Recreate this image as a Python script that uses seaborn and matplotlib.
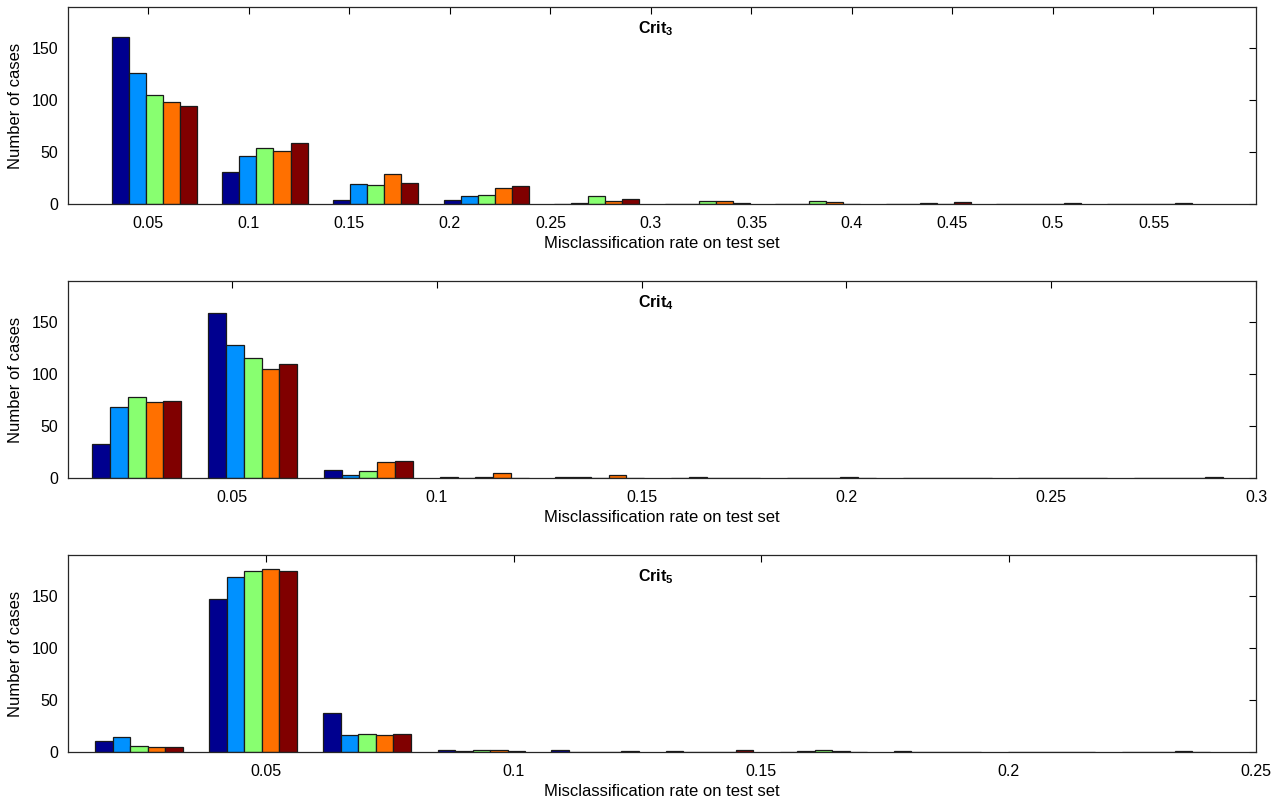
import numpy as np
import pandas as pd
import matplotlib
matplotlib.use("Agg")
import matplotlib.pyplot as plt
import seaborn as sns

# ---------------- data ----------------
series_names = ["S1", "S2", "S3", "S4", "S5"]
series_colors = ["#00008F", "#0091FF", "#88FF70", "#FF7000", "#800000"]

# Crit_3
crit3_bins = [0.053, 0.108, 0.163, 0.218, 0.273, 0.328, 0.383, 0.438, 0.493, 0.548]
crit3_s1 = [160, 31, 4, 4, 0, 0, 0, 0, 0, 0]
crit3_s2 = [126, 46, 19, 8, 1, 0, 0, 0, 0, 0]
crit3_s3 = [105, 54, 18, 9, 8, 3, 3, 1, 0, 0]
crit3_s4 = [98, 51, 29, 15, 3, 3, 2, 0, 0, 0]
crit3_s5 = [94, 59, 20, 17, 5, 1, 0, 2, 1, 1]
crit3_xticks = [0.05, 0.1, 0.15, 0.2, 0.25, 0.3, 0.35, 0.4, 0.45, 0.5, 0.55]
crit3_xlim = (0.01, 0.601)

# Crit_4
crit4_bins = [0.0268, 0.0551, 0.0833, 0.1116, 0.1398, 0.1681, 0.1963, 0.2246, 0.2528, 0.2811]
crit4_s1 = [33, 158, 8, 1, 1, 0, 0, 0, 0, 0]
crit4_s2 = [68, 128, 3, 0, 1, 1, 0, 0, 0, 0]
crit4_s3 = [78, 115, 7, 1, 0, 0, 0, 0, 0, 0]
crit4_s4 = [73, 105, 15, 5, 3, 0, 1, 0, 0, 0]
crit4_s5 = [74, 109, 16, 0, 0, 0, 0, 0, 0, 1]
crit4_xticks = [0.05, 0.1, 0.15, 0.2, 0.25, 0.3]
crit4_xlim = (0.01, 0.30)

# Crit_5
crit5_bins = [0.0243, 0.0474, 0.0704, 0.0935, 0.1165, 0.1396, 0.1626, 0.1857, 0.2087, 0.2318]
crit5_s1 = [11, 147, 37, 2, 2, 1, 0, 1, 0, 0]
crit5_s2 = [14, 168, 16, 1, 0, 0, 1, 0, 0, 0]
crit5_s3 = [6, 174, 17, 2, 0, 0, 2, 0, 0, 0]
crit5_s4 = [5, 176, 16, 2, 0, 0, 1, 0, 0, 1]
crit5_s5 = [5, 174, 17, 1, 1, 2, 0, 0, 0, 0]
crit5_xticks = [0.05, 0.1, 0.15, 0.2, 0.25]
crit5_xlim = (0.01, 0.25)

yticks = [0, 50, 100, 150]
ylim = (0, 189)
xlabel = "Misclassification rate on test set"
ylabel = "Number of cases"

panels = [
    ("3", crit3_bins, [crit3_s1, crit3_s2, crit3_s3, crit3_s4, crit3_s5], crit3_xticks, crit3_xlim),
    ("4", crit4_bins, [crit4_s1, crit4_s2, crit4_s3, crit4_s4, crit4_s5], crit4_xticks, crit4_xlim),
    ("5", crit5_bins, [crit5_s1, crit5_s2, crit5_s3, crit5_s4, crit5_s5], crit5_xticks, crit5_xlim),
]

# ---------------- style ----------------
sns.set_theme(style="white")
plt.rcParams["font.family"] = ["Liberation Sans", "DejaVu Sans"]
plt.rcParams["mathtext.fontset"] = "custom"
plt.rcParams["mathtext.rm"] = "Liberation Sans"
plt.rcParams["mathtext.bf"] = "Liberation Sans:bold"
plt.rcParams["text.color"] = "black"
plt.rcParams["axes.labelcolor"] = "black"
plt.rcParams["xtick.color"] = "black"
plt.rcParams["ytick.color"] = "black"

fig = plt.figure(figsize=(12.86, 8.02), dpi=100)
W, H = 1286, 802
left_px, right_px = 68, 1256
tops = [7, 281, 555]
bots = [204, 478, 752]

for (num, bins, series, xt, xl), tp, bt in zip(panels, tops, bots):
    ax = fig.add_axes([left_px / W, 1 - bt / H, (right_px - left_px) / W, (bt - tp) / H])
    rows = []
    for name, vals in zip(series_names, series):
        for b, v in zip(bins, vals):
            rows.append({"rate": b, "count": v, "series": name})
    df = pd.DataFrame(rows)
    sns.barplot(data=df, x="rate", y="count", hue="series", hue_order=series_names,
                palette=series_colors, native_scale=True, width=0.769, dodge=True,
                errorbar=None, edgecolor="#1a1a1a", linewidth=0.9, saturation=1,
                legend=False, ax=ax)
    ax.set_xlim(*xl)
    ax.set_ylim(*ylim)
    ax.set_xticks(xt)
    ax.set_xticklabels([f"{t:g}" for t in xt])
    ax.set_yticks(yticks)
    ax.tick_params(axis="both", direction="in", length=5, width=0.8, top=True, right=True,
                   labelsize=11.5, colors="#000000")
    ax.tick_params(axis="x", pad=9)
    ax.tick_params(axis="y", pad=7)
    for sp in ax.spines.values():
        sp.set_visible(True)
        sp.set_color("#262626")
        sp.set_linewidth(0.9)
    ax.set_xlabel(xlabel, fontsize=12, labelpad=3)
    ax.set_ylabel(ylabel, fontsize=12, labelpad=6)
    ax.text(0.495, 0.94, r"$\mathbf{Crit}_{\mathbf{" + num + "}}$", transform=ax.transAxes,
            ha="center", va="top", fontsize=11.5)

fig.savefig("out.png", dpi=100)
